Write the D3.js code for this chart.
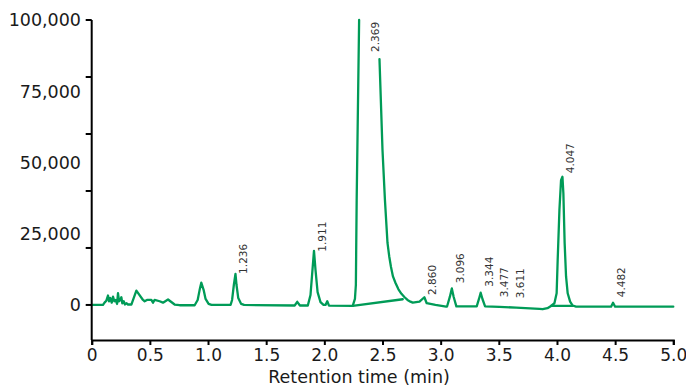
<!DOCTYPE html>
<html>
<head>
<meta charset="utf-8">
<script src="https://cdn.jsdelivr.net/npm/d3@7"></script>
<style>
  html, body { margin: 0; padding: 0; background: #fff; }
  svg { display: block; }
</style>
</head>
<body>
<svg id="chart" width="686" height="387"></svg>
<script>
// ---- data ----
const traceTime = [
  0, 0.097, 0.112, 0.126, 0.140, 0.149, 0.160, 0.172, 0.183, 0.195, 0.206, 0.218, 0.226, 0.235,
  0.246, 0.255, 0.263, 0.275, 0.286, 0.298, 0.312, 0.341, 0.384, 0.441, 0.455, 0.475, 0.513,
  0.527, 0.541, 0.584, 0.613, 0.656, 0.713, 0.756, 0.885, 0.911, 0.928, 0.942, 0.962, 0.979,
  1.005, 1.030, 1.194, 1.207, 1.222, 1.236, 1.245, 1.260, 1.285, 1.310, 1.745, 1.767, 1.790,
  1.858, 1.881, 1.898, 1.911, 1.924, 1.942, 1.967, 1.993, 2.010, 2.025, 2.040, 2.244, 2.263,
  2.271, 2.278, 2.299, 2.369, 2.474, 2.500, 2.521, 2.543, 2.558, 2.573, 2.590, 2.612, 2.637,
  2.663, 2.690, 2.715, 2.740, 2.760, 2.818, 2.860, 2.880, 2.955, 3.047, 3.055, 3.080, 3.096,
  3.112, 3.135, 3.310, 3.330, 3.344, 3.360, 3.382, 3.505, 3.649, 3.849, 3.877, 3.918, 3.949,
  3.978, 3.997, 4.006, 4.021, 4.035, 4.047, 4.055, 4.066, 4.078, 4.092, 4.113, 4.135, 4.164,
  4.465, 4.482, 4.500, 5.000
];
// null = detector signal above the displayed range (apex of the 2.369 peak)
const traceSignal = [
  0, 0, 900, 1500, 3300, 1300, 2450, 800, 2900, 1300, 1750, 350, 4100, 1300,
  1750, 2700, 600, 1300, 150, 600, 150, 150, 5000, 1750, 1300, 1750, 1750,
  800, 1750, 1300, 800, 1900, 150, -100, -100, 1750, 5300, 7800, 5300, 2100,
  350, 0, 0, 1750, 7000, 10900, 7000, 2400, 350, 0, -200, 1100, -200,
  -200, 3500, 12300, 19000, 12300, 4500, 1000, 0, 0, 1300, -250, -350, 2100,
  7000, 36800, 100000, null, 86300, 54400, 36800, 21750, 17000, 13300, 10000, 7700, 5500,
  3900, 2700, 1750, 1150, 800, 1150, 2700, 600, 0, -600, -550, 3000, 5800,
  2800, -500, -500, 2200, 4300, 2000, -500, -650, -950, -1400, -1500, -1150, -350,
  600, 4100, 15800, 33300, 43800, 45000, 39200, 21600, 10000, 4100, 1150, -200, -600,
  -600, 800, -600, -600
];

// integration baselines drawn under peaks
const baseFromTime   = [2.244, 3.949];
const baseFromSignal = [-350, -350];
const baseToTime     = [2.674, 4.135];
const baseToSignal   = [2000, -350];

// peak retention-time labels
const peakLabels      = ["1.236", "1.911", "2.369", "2.860", "3.096", "3.344", "3.477", "3.611", "4.047", "4.482"];
const peakLabelTime   = [1.236, 1.911, 2.369, 2.860, 3.096, 3.344, 3.477, 3.611, 4.047, 4.482];
const peakLabelSignal = [10900, 18700, 88800, 3500, 7600, 6400, 2700, 2350, 46200, 2700];

// axes
const xTicks = [0, 0.5, 1.0, 1.5, 2.0, 2.5, 3.0, 3.5, 4.0, 4.5, 5.0];
const xTickLabels = ["0", "0.5", "1.0", "1.5", "2.0", "2.5", "3.0", "3.5", "4.0", "4.5", "5.0"];
const yTickMarks = [0, 20000, 40000, 60000, 80000, 100000];
const yLabelValues = [0, 25000, 50000, 75000, 100000];
const yLabels = ["0", "25,000", "50,000", "75,000", "100,000"];
const xTitle = "Retention time (min)";

// ---- drawing ----
const svg = d3.select("#chart");
const FONT = "'DejaVu Sans', Verdana, sans-serif";
const green = "#009b57";

const x = d3.scaleLinear().domain([0, 5]).range([91.7, 673.3]);
const y = d3.scaleLinear().domain([-12300, 100000]).range([340, 20]);

const pts = traceTime.map((t, i) => ({ t, v: traceSignal[i] }));
const line = d3.line()
  .defined(d => d.v !== null)
  .x(d => x(d.t))
  .y(d => y(d.v));

svg.append("path")
  .datum(pts)
  .attr("d", line)
  .attr("fill", "none")
  .attr("stroke", green)
  .attr("stroke-width", 2.3)
  .attr("stroke-linejoin", "round")
  .attr("stroke-linecap", "round");

baseFromTime.forEach((t0, i) => {
  svg.append("path")
    .datum([{ t: t0, v: baseFromSignal[i] }, { t: baseToTime[i], v: baseToSignal[i] }])
    .attr("d", line)
    .attr("fill", "none")
    .attr("stroke", green)
    .attr("stroke-width", 2.3)
    .attr("stroke-linecap", "round");
});

// peak labels
peakLabels.forEach((lab, i) => {
  const px = x(peakLabelTime[i]) + 12;
  const py = y(peakLabelSignal[i]);
  svg.append("text")
    .attr("transform", `translate(${px},${py}) rotate(-90)`)
    .attr("text-anchor", "start")
    .attr("font-family", FONT)
    .attr("font-size", "10.5px")
    .attr("fill", "#333")
    .text(lab);
});

// y axis (tick marks every 20,000; labels every 25,000)
const yAxis = svg.append("g").attr("transform", `translate(${x(0)},0)`);
yAxis.append("line")
  .attr("x1", 0).attr("x2", 0)
  .attr("y1", y(100000)).attr("y2", y(-12300))
  .attr("stroke", "#000").attr("stroke-width", 2);
yAxis.selectAll("line.tick").data(yTickMarks).enter().append("line")
  .attr("class", "tick")
  .attr("x1", -6).attr("x2", 0)
  .attr("y1", d => y(d)).attr("y2", d => y(d))
  .attr("stroke", "#000").attr("stroke-width", 2);
svg.selectAll("text.ylab").data(yLabelValues).enter().append("text")
  .attr("class", "ylab")
  .attr("x", 81)
  .attr("y", d => y(d))
  .attr("dy", "0.36em")
  .attr("text-anchor", "end")
  .attr("font-family", FONT)
  .attr("font-size", "17.5px")
  .attr("fill", "#1a1a1a")
  .text((d, i) => yLabels[i]);

// x axis
const xAxisG = svg.append("g")
  .attr("transform", `translate(0,${y(-12300)})`)
  .call(d3.axisBottom(x).tickValues(xTicks).tickSize(5).tickPadding(4)
    .tickFormat((d, i) => xTickLabels[i]));
xAxisG.select(".domain").attr("stroke", "#000").attr("stroke-width", 2);
xAxisG.selectAll(".tick line").attr("stroke", "#000").attr("stroke-width", 2);
xAxisG.selectAll(".tick text")
  .attr("font-family", FONT)
  .attr("font-size", "17px")
  .attr("fill", "#1a1a1a");

svg.append("text")
  .attr("x", 359)
  .attr("y", 383)
  .attr("text-anchor", "middle")
  .attr("font-family", FONT)
  .attr("font-size", "17.5px")
  .attr("fill", "#1a1a1a")
  .text(xTitle);
</script>
</body>
</html>
